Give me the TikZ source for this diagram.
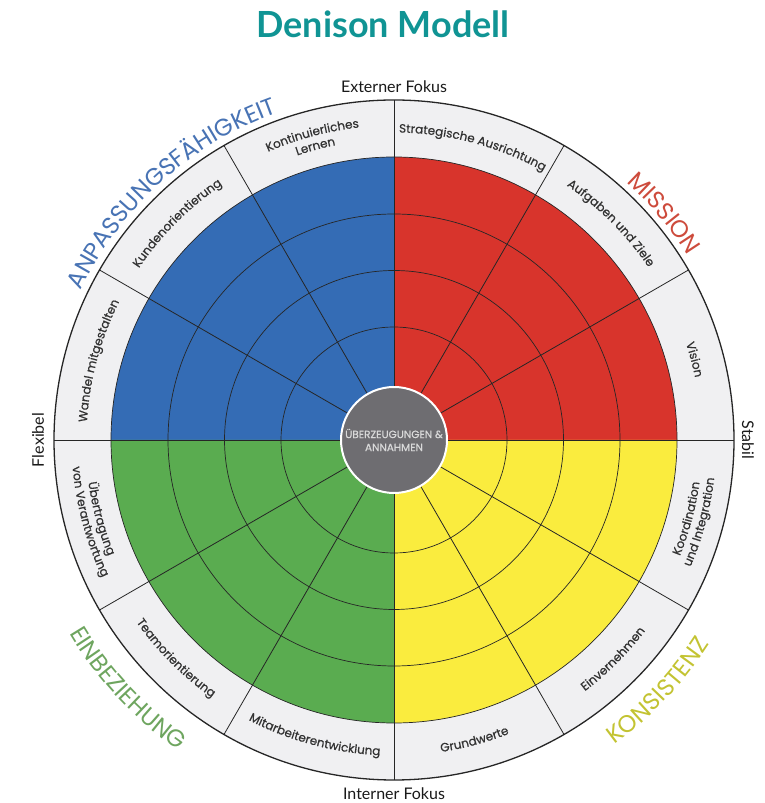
\documentclass[tikz,border=0pt]{standalone}
\usepackage{fontspec}
\setmainfont{Lato}
\newfontfamily\popfont{Poppins}
\newfontfamily\popmed{Poppins}[FakeBold=0.6]
\usetikzlibrary{decorations.text}
\definecolor{qblue}{RGB}{52,108,181}
\definecolor{qred}{RGB}{216,52,44}
\definecolor{qyellow}{RGB}{250,236,62}
\definecolor{qgreen}{RGB}{90,172,80}
\definecolor{ringgray}{RGB}{240,240,242}
\definecolor{coregray}{RGB}{110,109,113}
\definecolor{titleteal}{RGB}{16,148,148}
\definecolor{labeltext}{RGB}{50,50,50}
\definecolor{catblue}{RGB}{72,115,180}
\definecolor{catred}{RGB}{205,75,60}
\definecolor{catgreen}{RGB}{110,165,95}
\definecolor{catyellow}{RGB}{195,195,50}
\newcommand\labfont{\popmed\fontsize{12}{15}\selectfont}
\newcommand\catfont{\popfont\fontsize{24}{28}\selectfont}
% clockwise arc text (tops outward): radius, mid angle, font, colour, text
\newcommand\cwlabel[5]{%
  \path[decorate,decoration={text along path,text align=center,text color=#4,text={|#3|#5}}]
    (C) ++({#2+40}:#1pt) arc[start angle={#2+40},end angle={#2-40},radius=#1pt];}
% counter-clockwise arc text (tops inward)
\newcommand\ccwlabel[5]{%
  \path[decorate,decoration={text along path,text align=center,text color=#4,text={|#3|#5}}]
    (C) ++({#2-40}:#1pt) arc[start angle={#2-40},end angle={#2+40},radius=#1pt];}
\begin{document}
\begin{tikzpicture}[x=1pt,y=1pt,
  ringline/.style={draw=black!85,line width=0.7pt},
  spokeline/.style={draw=black!85,line width=0.8pt},
  outerline/.style={draw=black!85,line width=1.3pt},
  axislabel/.style={font=\fontsize{16}{19}\selectfont,text=black!90,inner sep=0pt},
  core/.style={circle,fill=coregray,draw=white,line width=2pt,minimum size=106pt,inner sep=0pt,
    align=center,text=white!85!black,font=\popmed\fontsize{10.5}{13}\selectfont}]
\useasboundingbox (0,0) rectangle (765,803);
\coordinate (C) at (394,363);
% outer grey ring
\fill[ringgray] (C) circle[radius=340pt];
% coloured quadrants
\fill[qred] (C) -- ++(0:283pt) arc[start angle=0,end angle=90,radius=283pt] -- cycle;
\fill[qblue] (C) -- ++(90:283pt) arc[start angle=90,end angle=180,radius=283pt] -- cycle;
\fill[qgreen] (C) -- ++(180:283pt) arc[start angle=180,end angle=270,radius=283pt] -- cycle;
\fill[qyellow] (C) -- ++(270:283pt) arc[start angle=270,end angle=360,radius=283pt] -- cycle;
% rings
\foreach \r in {113,169.5,226,283} \draw[ringline] (C) circle[radius=\r pt];
\draw[outerline] (C) circle[radius=340pt];
% spokes
\foreach \a in {0,30,...,330} \draw[spokeline] (C) ++(\a:53pt) -- ++(\a:287pt);
% centre
\node[core] (core) at (C) {ÜBERZEUGUNGEN \&\\ANNAHMEN};
% segment labels
\cwlabel{314.5}{105}{\labfont}{labeltext}{Kontinuierliches}
\cwlabel{300.5}{105}{\labfont}{labeltext}{Lernen}
\cwlabel{307.5}{75}{\labfont}{labeltext}{Strategische Ausrichtung}
\cwlabel{307.5}{45}{\labfont}{labeltext}{Aufgaben und Ziele}
\cwlabel{307.5}{15}{\labfont}{labeltext}{Vision}
\ccwlabel{308.5}{-15}{\labfont}{labeltext}{Koordination}
\ccwlabel{322.5}{-15}{\labfont}{labeltext}{und Integration}
\ccwlabel{315.5}{-45}{\labfont}{labeltext}{Einvernehmen}
\ccwlabel{315.5}{-75}{\labfont}{labeltext}{Grundwerte}
\ccwlabel{315.5}{-105}{\labfont}{labeltext}{Mitarbeiterentwicklung}
\ccwlabel{315.5}{225}{\labfont}{labeltext}{Teamorientierung}
\ccwlabel{308.5}{195}{\labfont}{labeltext}{Übertragung}
\ccwlabel{322.5}{195}{\labfont}{labeltext}{von Verantwortung}
\cwlabel{307.5}{165}{\labfont}{labeltext}{Wandel mitgestalten}
\cwlabel{307.5}{135}{\labfont}{labeltext}{Kundenorientierung}
% category labels
\cwlabel{347}{132}{\catfont}{catblue}{ANPASSUNGSFÄHIGKEIT}
\cwlabel{347}{40}{\catfont}{catred}{MISSION}
\ccwlabel{378}{223}{\catfont}{catgreen}{EINBEZIEHUNG}
\ccwlabel{376}{-43.5}{\catfont}{catyellow}{KONSISTENZ}
% axis labels
\node[axislabel,anchor=base] (ext) at (394,710) {Externer Fokus};
\node[axislabel,anchor=base] (int) at (394,3) {Interner Fokus};
\node[axislabel,rotate=90] (flex) at (38,363) {Flexibel};
\node[axislabel,rotate=-90] (stab) at (748,363) {Stabil};
% title
\node[anchor=base,inner sep=0pt,text=titleteal,font=\bfseries\fontsize{36}{40}\selectfont] (title) at (383,765) {Denison Modell};
\end{tikzpicture}
\end{document}
